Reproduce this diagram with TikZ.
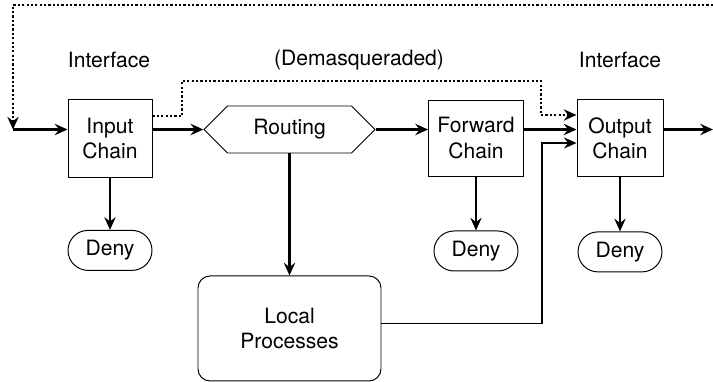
\documentclass[tikz,border=0pt]{standalone}
\usepackage{fontspec}
\setmainfont{TeX Gyre Heros}
\usepackage{tikz}
\usetikzlibrary{shapes,arrows.meta,positioning}
\tikzset{chain node/.style={rectangle,draw,line width=0.7pt,minimum width=2.1cm,minimum height=1.95cm,align=center,inner sep=0pt},}
\tikzset{deny node/.style={rectangle,rounded corners=0.5cm,draw,line width=0.7pt,minimum width=2.1cm,minimum height=1cm,inner sep=0pt},}
\tikzset{route node/.style={signal,signal to=east and west,signal pointer angle=90,draw,line width=0.7pt,minimum width=4.275cm,minimum height=1.175cm,inner sep=0pt},}
\tikzset{local node/.style={rectangle,rounded corners=0.3cm,draw,line width=0.7pt,minimum width=4.575cm,minimum height=2.625cm,align=center},}
\tikzstyle{arrow} = [line width=1.5pt,->,>={Stealth[length=9pt,width=8pt,inset=3pt]}]
\tikzstyle{dotarrow} = [arrow,line width=1.6pt,dash pattern=on 1.6pt off 1.5pt]
\tikzstyle{thin arrow} = [arrow,line width=0.8pt]

\begin{document}
\begin{tikzpicture}
  \useasboundingbox (0,0) rectangle (17.825,-9.55);
  \fontsize{15}{18}\selectfont
    \node[chain node] (1) at (2.75,-3.46) {Input\\Chain};
    \node[route node] (2) at (7.2375,-3.2375) {Routing};
    \node[chain node,minimum width=2.375cm,minimum height=1.9cm] (3) at (11.9,-3.45) {Forward\\Chain};
    \node[chain node,minimum width=2.15cm,minimum height=1.925cm] (4) at (15.5,-3.46) {Output\\Chain};
    \node[local node] (5) [below=3.05cm of 2] {Local\\Processes};

    \node[deny node] (6) [below=1.3cm of 1] {Deny};
    \node[deny node] (7) [below=1.35cm of 3] {Deny};
    \node[deny node] (8) [below=1.35cm of 4] {Deny};

    \node (9) at (2.725,-1.5) {Interface};
    \node (10) at (15.5,-1.5) {Interface};
    \node (11) at (8.975,-1.5) {(Demasqueraded)};

    \coordinate (a) at (0.325,-3.2375);
    \coordinate (b) at (17.825,-3.2375);
    \coordinate (c) at (17.825,-0.125);
    \coordinate (d1) at (4.55,-2.025);
    \coordinate (d2) at (13.525,-2.025);
    \coordinate (e) at (13.55,-3.575);

    \draw [dotarrow] (c) -| (a);
    \draw [arrow] (a) -- (1.west |- a);
    \draw [arrow] (1.east |- 2.west) -- (2.west);
    \draw [arrow] (2.east) -- (3.west |- 2.east);
    \draw [arrow] (3.east |- 2.east) -- (4.west |- 2.east);
    \draw [arrow] (4.east |- 2.east) -- (b);
    \draw [arrow] (2.south) -- (5.north);
    \draw [arrow] (1) -- (6);
    \draw [arrow] (3) -- (7);
    \draw [arrow] (4) -- (8);
    \draw [dotarrow] ([yshift=0.56cm]1.east) -| (d1) -- (d2) |- ([yshift=0.585cm]4.west);
    \draw [thin arrow] ([yshift=0.125cm]5.east) -| (e) -- (4.west |- e);
\end{tikzpicture}
\end{document}
